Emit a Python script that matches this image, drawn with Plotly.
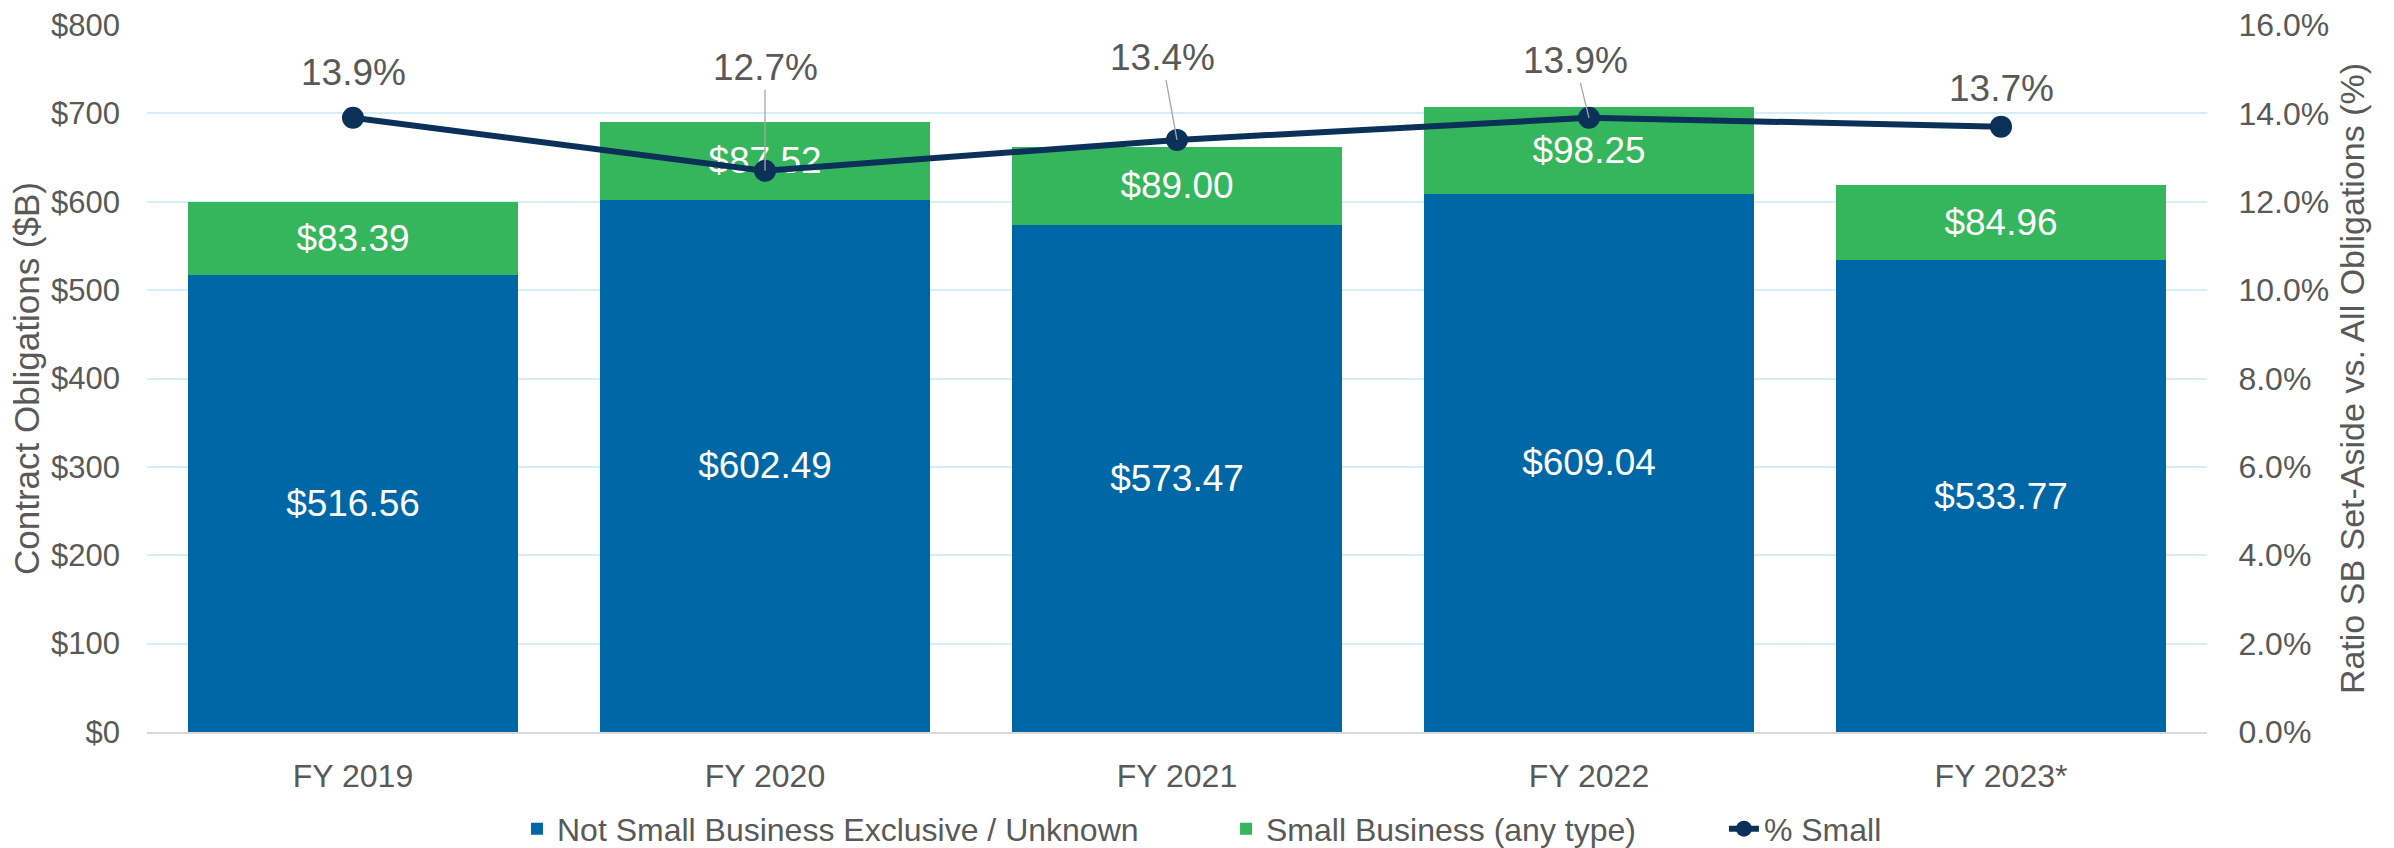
import plotly.graph_objects as go

categories = ["FY 2019", "FY 2020", "FY 2021", "FY 2022", "FY 2023*"]
not_small = [516.56, 602.49, 573.47, 609.04, 533.77]
small_biz = [83.39, 87.52, 89.00, 98.25, 84.96]
pct_small = [0.139, 0.127, 0.134, 0.139, 0.137]
pct_labels = ["13.9%", "12.7%", "13.4%", "13.9%", "13.7%"]

FONT = "Liberation Sans, Arial, sans-serif"
GREY = "#595959"
BLUE = "#0067A6"
GREEN = "#35B55C"
NAVY = "#0B3158"

fig = go.Figure()
fig.add_trace(go.Bar(
    x=categories, y=not_small, name="Not Small Business Exclusive / Unknown",
    marker=dict(color=BLUE, line=dict(width=0)),
    texttemplate="$%{y:.2f}", textposition="inside", insidetextanchor="middle",
    textangle=0, textfont=dict(color="white", size=37, family=FONT),
    constraintext="none", yaxis="y", legend="legend",
))
fig.add_trace(go.Bar(
    x=categories, y=small_biz, name="Small Business (any type)",
    marker=dict(color=GREEN, line=dict(width=0)),
    texttemplate="$%{y:.2f}", textposition="inside", insidetextanchor="middle",
    textangle=0, textfont=dict(color="white", size=37, family=FONT),
    constraintext="none", yaxis="y", legend="legend2",
))
fig.add_trace(go.Scatter(
    x=categories, y=pct_small, name="% Small", mode="lines+markers",
    line=dict(color=NAVY, width=6), marker=dict(color=NAVY, size=22),
    yaxis="y2", legend="legend3",
))

# label offsets (pixels) for the percentage labels
offsets = [(0, -45, False), (0, -103, True), (-15, -82, True), (-14, -57, True), (0, -38, False)]
for cat, val, lab, (dx, dy, arrow) in zip(categories, pct_small, pct_labels, offsets):
    if arrow:
        fig.add_annotation(x=cat, y=val, xref="x", yref="y2", text=lab,
                           showarrow=True, ax=dx, ay=dy, arrowhead=0, arrowwidth=1.3,
                           arrowcolor="#a6a6a6", standoff=0,
                           font=dict(size=37, color=GREY, family=FONT))
    else:
        fig.add_annotation(x=cat, y=val, xref="x", yref="y2", text=lab,
                           showarrow=False, xshift=dx, yshift=-dy,
                           font=dict(size=37, color=GREY, family=FONT))

leg_common = dict(orientation="h", xanchor="left", y=-0.137, yanchor="middle",
                  font=dict(size=32, color=GREY, family=FONT),
                  bgcolor="rgba(0,0,0,0)", itemwidth=30)

fig.update_layout(
    width=2394, height=848,
    barmode="stack", bargap=0.2,
    plot_bgcolor="white", paper_bgcolor="white",
    font=dict(family=FONT, color=GREY, size=32),
    margin=dict(l=147, r=187, t=25, b=116, autoexpand=False),
    showlegend=True,
    legend=dict(x=0.1796, **leg_common),
    legend2=dict(x=0.5238, **leg_common),
    legend3=dict(x=0.7655, **leg_common),
    xaxis=dict(showline=True, linecolor="#d9d9d9", linewidth=1.5, ticks="",
               tickfont=dict(size=32, color=GREY), ticklabelstandoff=15,
               showgrid=False),
    yaxis=dict(range=[0, 800], dtick=100, tickprefix="$", showgrid=True,
               gridcolor="#d4eefa", gridwidth=1.5, zeroline=False,
               tickfont=dict(size=31, color=GREY), ticklabelstandoff=26,
               title=dict(text="Contract Obligations ($B)", font=dict(size=35, color=GREY), standoff=0),
               automargin=False),
    yaxis2=dict(range=[0, 0.16], dtick=0.02, tickformat=".1%", overlaying="y", side="right",
                showgrid=False, zeroline=False,
                ticks="outside", ticklen=24, tickcolor="rgba(0,0,0,0)",
                tickfont=dict(size=32, color=GREY),
                title=dict(text="Ratio SB Set-Aside vs. All Obligations (%)", font=dict(size=34, color=GREY), standoff=12),
                automargin=False),
)

fig.write_html("out.html", config={"displayModeBar": False},
               post_script="document.body.style.margin='0';document.body.style.overflow='hidden';")
